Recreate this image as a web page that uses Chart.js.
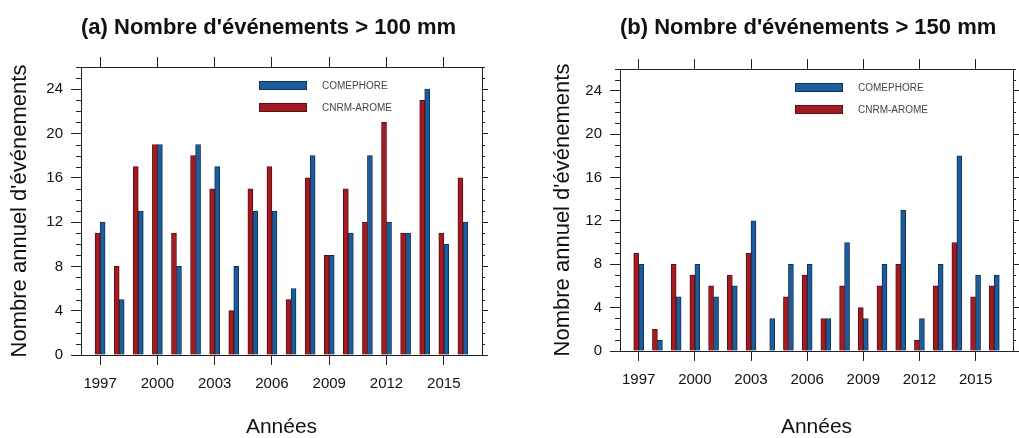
<!DOCTYPE html>
<html lang="fr">
<head>
<meta charset="UTF-8">
<title>Nombre annuel d'événements</title>
<script src="https://cdn.jsdelivr.net/npm/chart.js"></script>
<style>
  body { margin: 0; background: #fff; }
  #wrap { position: relative; width: 1019px; height: 438px; overflow: hidden; }
  canvas { position: absolute; top: 0; }
</style>
</head>
<body>
<div id="wrap">
  <canvas id="chartA" width="520" height="438" style="left:0px"></canvas>
  <canvas id="chartB" width="476" height="438" style="left:543px"></canvas>
</div>
<script>
const years = [1997, 1998, 1999, 2000, 2001, 2002, 2003, 2004, 2005, 2006,
               2007, 2008, 2009, 2010, 2011, 2012, 2013, 2014, 2015, 2016];
const xTicks = [1997, 2000, 2003, 2006, 2009, 2012, 2015];
const yTicks = [0, 4, 8, 12, 16, 20, 24];

// > 100 mm
const arome100     = [11, 8, 17, 19, 11, 18, 15, 4, 15, 17, 5, 16, 9, 15, 12, 21, 11, 23, 11, 16];
const comephore100 = [12, 5, 13, 19, 8, 19, 17, 8, 13, 13, 6, 18, 9, 11, 18, 12, 11, 24, 10, 12];
// > 150 mm
const arome150     = [9, 2, 8, 7, 6, 7, 9, 0, 5, 7, 3, 6, 4, 6, 8, 1, 6, 10, 5, 6];
const comephore150 = [8, 1, 5, 8, 5, 6, 12, 3, 8, 8, 3, 10, 3, 8, 13, 3, 8, 18, 7, 7];

const RED = '#a31b20', RED_EDGE = '#5c0f12';
const BLUE = '#1d5c9a', BLUE_EDGE = '#0f3258';
const AXIS = '#222';

// minor ticks every unit on left/right axes
const minorTicks = {
  id: 'minorTicks',
  afterDraw(chart) {
    const {ctx, chartArea: a} = chart;
    const y = chart.scales.y;
    ctx.save();
    ctx.strokeStyle = AXIS;
    ctx.lineWidth = 1;
    ctx.beginPath();
    for (let v = y.min; v <= y.max; v++) {
      if (yTicks.includes(v)) continue;
      const py = Math.round(y.getPixelForValue(v)) + 0.5;
      ctx.moveTo(a.left - 5, py); ctx.lineTo(a.left, py);
      ctx.moveTo(a.right, py); ctx.lineTo(a.right + 3, py);
    }
    ctx.stroke();
    ctx.restore();
  }
};

// legend inside the plot, COMEPHORE on top
const boxLegend = {
  id: 'boxLegend',
  afterDatasetsDraw(chart, args, opts) {
    const {ctx, chartArea: a} = chart;
    const items = chart.data.datasets.slice().reverse();
    ctx.save();
    items.forEach((ds, i) => {
      const x = a.left + opts.x;
      const y = a.top + opts.y + i * opts.rowGap;
      ctx.fillStyle = ds.backgroundColor;
      ctx.fillRect(x, y, 48, 9);
      ctx.strokeStyle = ds.borderColor;
      ctx.lineWidth = 1;
      ctx.strokeRect(x + 0.5, y + 0.5, 47, 8);
      ctx.fillStyle = '#444';
      ctx.font = '10px "Liberation Sans", Arial, sans-serif';
      ctx.textBaseline = 'middle';
      ctx.fillText(ds.label, x + 63, y + 5);
    });
    ctx.restore();
  }
};

function makePanel(id, title, arome, comephore, box) {
  const canvas = document.getElementById(id);
  const setTicks = values => s => { s.ticks = values.map(v => ({value: v})); };
  const edge = {color: AXIS, width: 1};

  new Chart(canvas.getContext('2d'), {
    type: 'bar',
    data: {
      labels: years,
      datasets: [
        { label: 'CNRM-AROME', data: arome, backgroundColor: RED, borderColor: RED_EDGE,
          borderWidth: 1, barThickness: 5 },
        { label: 'COMEPHORE', data: comephore, backgroundColor: BLUE, borderColor: BLUE_EDGE,
          borderWidth: 1, barThickness: 5 }
      ]
    },
    options: {
      responsive: false,
      animation: false,
      layout: { padding: 0 },
      plugins: {
        legend: { display: false },
        tooltip: { enabled: false },
        title: {
          display: true, text: title, align: 'start', fullSize: false,
          color: '#111', font: { size: 22, weight: 'bold' },
          padding: { top: 15, bottom: box.top - 10 - 15 - 26.4 }
        },
        boxLegend: { x: box.legendX, y: 14, rowGap: 22 }
      },
      scales: {
        x: {
          type: 'linear', position: 'bottom', min: 1996, max: 2017, offset: false,
          grid: { offset: false, drawOnChartArea: false, tickLength: 10, tickColor: AXIS },
          border: edge,
          ticks: { color: '#111', font: { size: 15 }, padding: 10, autoSkip: false, maxRotation: 0,
                   callback: v => String(v) },
          afterBuildTicks: setTicks(xTicks),
          afterFit: s => { s.height = 438 - box.bottom; },
          title: { display: true, text: 'Années', color: '#111',
                   font: { size: 21, lineHeight: 1 }, padding: { top: 0, bottom: 0 } }
        },
        x2: {
          type: 'linear', position: 'top', min: 1996, max: 2017, offset: false,
          grid: { offset: false, drawOnChartArea: false, tickLength: 10, tickColor: AXIS },
          border: edge,
          ticks: { display: false },
          afterBuildTicks: setTicks(xTicks),
          afterFit: s => { s.height = 10; }
        },
        y: {
          type: 'linear', position: 'left', min: 0, max: 26,
          grid: { drawOnChartArea: false, tickLength: 10, tickColor: AXIS },
          border: edge,
          ticks: { color: '#111', font: { size: 15 }, padding: 8 },
          afterBuildTicks: setTicks(yTicks),
          afterFit: s => { s.width = box.left; },
          title: { display: true, text: "Nombre annuel d'événements", color: '#111',
                   font: { size: 22 }, padding: { top: 7, bottom: 0 } }
        },
        y2: {
          type: 'linear', position: 'right', min: 0, max: 26,
          grid: { drawOnChartArea: false, tickLength: 6, tickColor: AXIS },
          border: edge,
          ticks: { display: false },
          afterBuildTicks: setTicks(yTicks),
          afterFit: s => { s.width = canvas.width - box.right; }
        }
      }
    },
    plugins: [minorTicks, boxLegend]
  });
}

Chart.defaults.font.family = '"Liberation Sans", Arial, sans-serif';

makePanel('chartA', "(a) Nombre d'événements > 100 mm", arome100, comephore100,
          { left: 81, right: 482, top: 67, bottom: 355, legendX: 178 });
makePanel('chartB', "(b) Nombre d'événements > 150 mm", arome150, comephore150,
          { left: 77, right: 470, top: 69, bottom: 351, legendX: 175 });
</script>
</body>
</html>
